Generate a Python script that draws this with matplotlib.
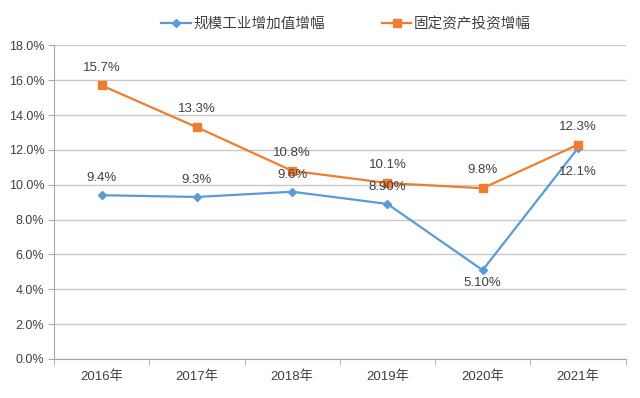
import matplotlib
matplotlib.use("Agg")
import matplotlib.pyplot as plt
from matplotlib.ticker import FuncFormatter, FixedLocator

plt.rcParams['font.family'] = ['Liberation Sans', 'Noto Sans CJK SC', 'DejaVu Sans']

years = ["2016年", "2017年", "2018年", "2019年", "2020年", "2021年"]
industry = [9.4, 9.3, 9.6, 8.9, 5.1, 12.1]
industry_labels = ["9.4%", "9.3%", "9.6%", "8.90%", "5.10%", "12.1%"]
invest = [15.7, 13.3, 10.8, 10.1, 9.8, 12.3]
invest_labels = ["15.7%", "13.3%", "10.8%", "10.1%", "9.8%", "12.3%"]
# label offsets in points (positive = above point, negative = below)
industry_label_offset = [8, 8, 8, 8, -5, -13]

blue = "#5b9bd5"
orange = "#ed7d31"

fig = plt.figure(figsize=(6.4, 3.98), dpi=100)
ax = fig.add_axes([0.0844, 0.098, 0.893, 0.788])

x = list(range(len(years)))
ax.plot(x, industry, color=blue, lw=1.6, marker="D", ms=4, label="规模工业增加值增幅")
ax.plot(x, invest, color=orange, lw=1.6, marker="s", ms=5.5, label="固定资产投资增幅")

fs = 9.5
for i in x:
    ax.annotate(invest_labels[i], (i, invest[i]), xytext=(0, 8.5), textcoords="offset points",
                ha="center", va="bottom", fontsize=fs, color="#404040")
    off = industry_label_offset[i]
    ax.annotate(industry_labels[i], (i, industry[i]), xytext=(0, off), textcoords="offset points",
                ha="center", va="bottom" if off > 0 else "top", fontsize=fs, color="#404040")

ax.set_xlim(-0.5, len(years) - 0.5)
ax.set_ylim(0, 18)
ax.set_yticks([0, 2, 4, 6, 8, 10, 12, 14, 16, 18])
ax.yaxis.set_major_formatter(FuncFormatter(lambda v, p: f"{v:.1f}%"))
ax.set_xticks(x)
ax.set_xticklabels(years)
ax.xaxis.set_minor_locator(FixedLocator([i - 0.5 for i in range(len(years) + 1)]))
ax.tick_params(axis="x", which="major", length=0, pad=8, labelsize=9.5, colors="#404040")
ax.tick_params(axis="x", which="minor", length=4, color="#a6a6a6")
ax.tick_params(axis="y", length=4, color="#a6a6a6", labelsize=9, labelcolor="#404040", pad=3)

ax.grid(axis="y", color="#c8c8c8", lw=1)
ax.set_axisbelow(True)
for s in ["top", "right"]:
    ax.spines[s].set_visible(False)
ax.spines["left"].set_color("#a6a6a6")
ax.spines["bottom"].set_color("#a6a6a6")

leg = fig.legend(loc="center", bbox_to_anchor=(0.541, 0.94), ncol=2, frameon=False,
                 handlelength=2.0, columnspacing=3.9, handletextpad=0.2,
                 prop={'family': ['Noto Sans CJK SC'], 'size': 10.5})
for t in leg.get_texts():
    t.set_color("#404040")

fig.savefig("out.png", dpi=100)
